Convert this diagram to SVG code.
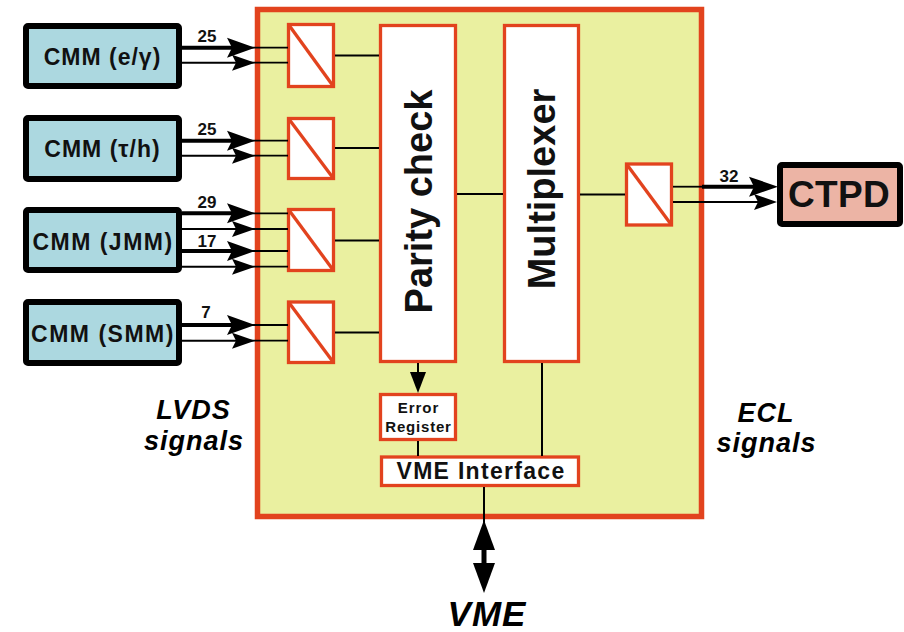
<svg xmlns="http://www.w3.org/2000/svg" width="904" height="632" viewBox="0 0 904 632">
<style>
  .main{fill:#eaf0a0;stroke:#e2431e;stroke-width:5.5}
  .cmm{fill:#acd8e0;stroke:#000;stroke-width:6}
  .ctpd{fill:#ecb4a5;stroke:#000;stroke-width:6}
  .blk{fill:#fff;stroke:#e2431e;stroke-width:3.3}
  .diag{stroke:#e2431e;stroke-width:3.3}
  .t{font-family:"Liberation Sans",Arial,sans-serif;font-weight:bold;fill:#111;text-anchor:middle}
  .ti{font-family:"Liberation Sans",Arial,sans-serif;font-weight:bold;font-style:italic;fill:#000;text-anchor:middle}
  .thick{stroke:#000;stroke-width:4;fill:none}
  .thin{stroke:#000;stroke-width:2;fill:none}
  .in{stroke:#000;stroke-width:1.8;fill:none}
</style>
<defs>
  <marker id="ab" markerUnits="userSpaceOnUse" viewBox="0 0 28 20" markerWidth="28" markerHeight="20" refX="13" refY="10" orient="auto" overflow="visible"><path d="M0,0 L28,10 L0,20 L5,10 z" fill="#000"/></marker>
  <marker id="as" markerUnits="userSpaceOnUse" viewBox="0 0 23 16" markerWidth="23" markerHeight="16" refX="8" refY="8" orient="auto" overflow="visible"><path d="M0,0 L23,8 L0,16 L4,8 z" fill="#000"/></marker>
  <marker id="abo" markerUnits="userSpaceOnUse" viewBox="0 0 29 20" markerWidth="29" markerHeight="20" refX="14" refY="10" orient="auto" overflow="visible"><path d="M0,0 L29,10 L0,20 L5,10 z" fill="#000"/></marker>
  <marker id="ad" markerUnits="userSpaceOnUse" viewBox="0 0 21 16" markerWidth="21" markerHeight="16" refX="11" refY="8" orient="auto" overflow="visible"><path d="M0,0 L21,8 L0,16 z" fill="#000"/></marker>
  <marker id="av" markerUnits="userSpaceOnUse" viewBox="0 0 30 22" markerWidth="30" markerHeight="22" refX="7" refY="11" orient="auto-start-reverse" overflow="visible"><path d="M0,0 L30,11 L0,22 z" fill="#000"/></marker>
</defs>

<g id="main-board">
  <rect class="main" x="257.5" y="9.5" width="444" height="507"/>
</g>

<g id="cmm-eg">
  <rect class="cmm" x="26" y="26" width="153" height="60" rx="2"/>
  <text class="t" x="102.5" y="65" font-size="23" letter-spacing="1">CMM (e/γ)</text>
</g>
<g id="cmm-th">
  <rect class="cmm" x="26" y="118" width="153" height="61" rx="2"/>
  <text class="t" x="102.5" y="157" font-size="23" letter-spacing="1">CMM (τ/h)</text>
</g>
<g id="cmm-jmm">
  <rect class="cmm" x="26" y="210" width="153" height="60" rx="2"/>
  <text class="t" x="103" y="250" font-size="23" letter-spacing="1.5">CMM (JMM)</text>
</g>
<g id="cmm-smm">
  <rect class="cmm" x="26" y="302" width="153" height="61" rx="2"/>
  <text class="t" x="103" y="342" font-size="23" letter-spacing="1.5">CMM (SMM)</text>
</g>

<g id="conv1">
  <rect class="blk" x="288.5" y="24.5" width="45" height="62"/>
  <line class="diag" x1="288.5" y1="24.5" x2="333.5" y2="86.5"/>
</g>
<g id="conv2">
  <rect class="blk" x="288.5" y="118.5" width="45" height="60"/>
  <line class="diag" x1="288.5" y1="118.5" x2="333.5" y2="178.5"/>
</g>
<g id="conv3">
  <rect class="blk" x="288.5" y="209.5" width="45" height="61"/>
  <line class="diag" x1="288.5" y1="209.5" x2="333.5" y2="270.5"/>
</g>
<g id="conv4">
  <rect class="blk" x="288.5" y="302" width="45" height="60.5"/>
  <line class="diag" x1="288.5" y1="302" x2="333.5" y2="362.5"/>
</g>

<g id="parity-check">
  <rect class="blk" x="380.5" y="25.5" width="75" height="336"/>
  <text class="t" font-size="38" transform="translate(432,201.5) rotate(-90)" x="0" y="0">Parity check</text>
</g>
<g id="multiplexer">
  <rect class="blk" x="504.5" y="25.5" width="74" height="336"/>
  <text class="t" font-size="38" transform="translate(555,189) rotate(-90)" x="0" y="0">Multiplexer</text>
</g>

<g id="conv-out">
  <rect class="blk" x="626.5" y="164" width="45" height="61"/>
  <line class="diag" x1="626.5" y1="164" x2="671.5" y2="225"/>
</g>

<g id="ctpd">
  <rect class="ctpd" x="780" y="165" width="120" height="59" rx="2"/>
  <text class="t" x="839" y="206.7" font-size="37" letter-spacing="0.3">CTPD</text>
</g>

<g id="error-register">
  <rect class="blk" x="380.5" y="394.5" width="75" height="45" stroke-width="3"/>
  <text class="t" x="418.5" y="413" font-size="15" letter-spacing="1">Error</text>
  <text class="t" x="418.5" y="432" font-size="15" letter-spacing="0.8">Register</text>
</g>

<g id="vme-interface">
  <rect class="blk" x="381.5" y="457" width="197" height="28.5" stroke-width="3"/>
  <text class="t" x="481" y="479" font-size="23" letter-spacing="1.3">VME Interface</text>
</g>

<g id="labels">
  <text class="ti" x="193.5" y="419" font-size="27" letter-spacing="1">LVDS</text>
  <text class="ti" x="194" y="450" font-size="27" letter-spacing="1">signals</text>
  <text class="ti" x="766" y="421.5" font-size="27" letter-spacing="1">ECL</text>
  <text class="ti" x="766.5" y="451.5" font-size="27" letter-spacing="1">signals</text>
  <text class="ti" x="487" y="626" font-size="35" letter-spacing="1">VME</text>
</g>

<g id="connectors">
  <line class="thick" x1="182" y1="47.7" x2="240" y2="47.7" marker-end="url(#ab)"/>
  <line class="in" x1="250" y1="47.7" x2="288" y2="47.7"/>
  <line class="thin" x1="182" y1="62.7" x2="240" y2="62.7" marker-end="url(#as)"/>
  <line class="in" x1="250" y1="62.7" x2="288" y2="62.7"/>
  <line class="thick" x1="182" y1="140.7" x2="240" y2="140.7" marker-end="url(#ab)"/>
  <line class="in" x1="250" y1="140.7" x2="288" y2="140.7"/>
  <line class="thin" x1="182" y1="155.7" x2="240" y2="155.7" marker-end="url(#as)"/>
  <line class="in" x1="250" y1="155.7" x2="288" y2="155.7"/>
  <line class="thick" x1="182" y1="213.3" x2="240" y2="213.3" marker-end="url(#ab)"/>
  <line class="in" x1="250" y1="213.3" x2="288" y2="213.3"/>
  <line class="thin" x1="182" y1="229" x2="240" y2="229" marker-end="url(#as)"/>
  <line class="in" x1="250" y1="229" x2="288" y2="229"/>
  <line class="thick" x1="182" y1="251" x2="240" y2="251" marker-end="url(#ab)"/>
  <line class="in" x1="250" y1="251" x2="288" y2="251"/>
  <line class="thin" x1="182" y1="266.7" x2="240" y2="266.7" marker-end="url(#as)"/>
  <line class="in" x1="250" y1="266.7" x2="288" y2="266.7"/>
  <line class="thick" x1="182" y1="325" x2="240" y2="325" marker-end="url(#ab)"/>
  <line class="in" x1="250" y1="325" x2="288" y2="325"/>
  <line class="thin" x1="182" y1="340.7" x2="240" y2="340.7" marker-end="url(#as)"/>
  <line class="in" x1="250" y1="340.7" x2="288" y2="340.7"/>

  <line class="in" x1="335" y1="55.5" x2="379" y2="55.5"/>
  <line class="in" x1="335" y1="148" x2="379" y2="148"/>
  <line class="in" x1="335" y1="240.5" x2="379" y2="240.5"/>
  <line class="in" x1="335" y1="332.5" x2="379" y2="332.5"/>
  <line class="in" x1="457" y1="194" x2="503" y2="194"/>
  <line class="in" x1="580" y1="194.5" x2="625" y2="194.5"/>
  <line class="in" x1="673" y1="186.7" x2="704" y2="186.7"/>
  <line class="thick" x1="702" y1="186.7" x2="763" y2="186.7" marker-end="url(#abo)"/>
  <line class="thin" x1="673" y1="202" x2="762" y2="202" marker-end="url(#as)"/>
  <line class="thin" x1="418" y1="363" x2="418" y2="383" marker-end="url(#ad)"/>
  <line class="thin" x1="418" y1="441" x2="418" y2="456"/>
  <line class="thin" x1="542" y1="363" x2="542" y2="456"/>
  <line class="thin" x1="484" y1="487" x2="484" y2="530"/>
  <line stroke="#000" stroke-width="5" x1="484" y1="543" x2="484" y2="570" marker-start="url(#av)" marker-end="url(#av)"/>

  <text class="t" x="207" y="42" font-size="17">25</text>
  <text class="t" x="207" y="135" font-size="17">25</text>
  <text class="t" x="207" y="208" font-size="17">29</text>
  <text class="t" x="207" y="247" font-size="17">17</text>
  <text class="t" x="206" y="318" font-size="17">7</text>
  <text class="t" x="729" y="181.5" font-size="17">32</text>
</g>
</svg>
